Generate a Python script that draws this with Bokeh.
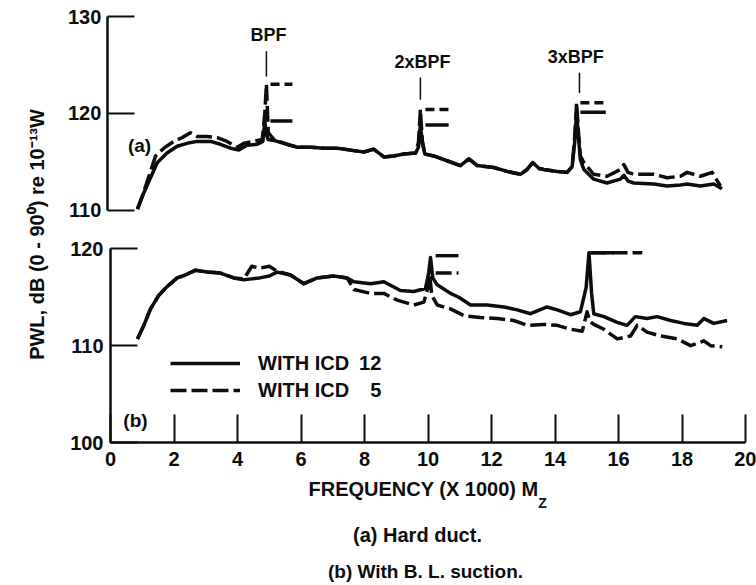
import math
from bokeh.plotting import figure
from bokeh.models import Range1d, LinearAxis, FixedTicker, Legend, LegendItem, Label
from bokeh.core.properties import value
from bokeh.embed import file_html
from bokeh.resources import INLINE

# ---------------- data ----------------
freq_ticks = [0, 2, 4, 6, 8, 10, 12, 14, 16, 18, 20]
bottom_ticks = [100, 110, 120]
top_ticks = [110, 120, 130]

# (a) Hard duct, ICD 12 (solid)
a12_x = [0.85, 1.05, 1.47, 1.78, 2.10, 2.41, 2.73, 3.15, 3.46, 3.78, 4.04, 4.30, 4.62, 4.80, 4.86, 4.90,
         4.96, 5.14, 5.56, 5.88, 6.30, 6.72, 7.14, 7.56, 7.98, 8.29, 8.61, 8.92, 9.24, 9.61, 9.70, 9.76,
         9.82, 9.90, 10.18, 10.60, 11.02, 11.29, 11.55, 12.07, 12.49, 12.91, 13.12, 13.30, 13.50, 13.65,
         14.07, 14.38, 14.54, 14.62, 14.68, 14.74, 14.80, 14.91, 15.22, 15.64, 16.06, 16.17, 16.30, 16.48,
         17.11, 17.53, 17.95, 18.16, 18.58, 19.00, 19.26]
a12_y = [110.1, 111.8, 114.9, 115.9, 116.6, 116.9, 117.1, 117.1, 116.8, 116.4, 116.2, 116.7, 116.8, 117.1, 119.2, 118.0,
         117.3, 117.2, 116.8, 116.5, 116.5, 116.4, 116.4, 116.2, 116.0, 116.3, 115.5, 115.6, 115.8, 115.9, 116.5, 118.8,
         117.0, 115.8, 115.6, 115.1, 114.6, 115.3, 114.6, 114.4, 114.0, 113.7, 114.2, 114.9, 114.3, 114.2,
         114.0, 113.9, 114.5, 117.0, 120.1, 117.5, 115.2, 114.2, 113.2, 112.8, 113.2, 113.6, 113.0, 112.8,
         112.7, 112.5, 112.6, 112.7, 112.5, 112.7, 112.2]

# (a) Hard duct, ICD 5 (dashed)
a5_x = [0.85, 1.05, 1.42, 1.68, 1.99, 2.26, 2.52, 2.73, 3.04, 3.36, 3.67, 3.99, 4.20, 4.51, 4.78, 4.86, 4.91,
        4.97, 5.14, 5.56, 5.88, 6.30, 6.72, 7.14, 7.56, 7.98, 8.29, 8.61, 8.92, 9.24, 9.61, 9.70, 9.76,
        9.82, 9.90, 10.18, 10.60, 11.02, 11.29, 11.55, 12.07, 12.49, 12.91, 13.12, 13.30, 13.50, 13.65,
        14.07, 14.38, 14.54, 14.62, 14.68, 14.74, 14.80, 14.91, 15.22, 15.64, 16.06, 16.17, 16.30, 16.48,
        17.11, 17.53, 17.95, 18.16, 18.58, 18.95, 19.21]
a5_y = [110.1, 111.9, 115.6, 116.4, 117.1, 117.5, 118.0, 117.6, 117.6, 117.5, 117.1, 116.5, 116.9, 117.1, 117.3, 120.0, 123.0,
        118.0, 117.3, 116.8, 116.5, 116.5, 116.4, 116.4, 116.2, 116.0, 116.3, 115.5, 115.6, 115.8, 115.9, 117.0, 120.4,
        117.2, 115.8, 115.6, 115.1, 114.6, 115.3, 114.6, 114.4, 114.0, 113.7, 114.2, 114.9, 114.3, 114.2,
        114.0, 113.9, 114.5, 117.5, 121.1, 118.0, 115.6, 114.9, 113.7, 113.5, 114.2, 114.7, 113.9, 113.7,
        113.7, 113.35, 113.5, 113.9, 113.5, 113.9, 112.5]

# (b) With B.L. suction, ICD 12 (solid)
b12_x = [0.85, 1.05, 1.26, 1.52, 1.78, 2.10, 2.36, 2.68, 3.05, 3.46, 3.88, 4.20, 4.45, 4.70, 5.00, 5.25, 5.67,
         6.09, 6.51, 7.03, 7.45, 7.67, 8.19, 8.61, 9.13, 9.55, 9.92, 10.02, 10.08, 10.15, 10.29, 10.71, 10.97,
         11.34, 11.86, 12.39, 12.81, 13.23, 13.75, 14.07, 14.49, 14.80, 14.98, 15.07, 15.15, 15.22, 15.54,
         15.96, 16.27, 16.53, 16.90, 17.22, 17.64, 18.06, 18.48, 18.69, 19.00, 19.42]
b12_y = [110.7, 112.1, 113.8, 115.2, 116.1, 117.0, 117.3, 117.8, 117.6, 117.5, 117.0, 116.8, 116.9, 117.0, 117.2, 117.6, 117.3,
         116.4, 117.0, 117.2, 117.0, 116.6, 116.4, 116.6, 115.7, 115.6, 115.9, 117.5, 119.1, 117.0, 116.3, 115.4, 115.0,
         114.2, 114.2, 114.0, 113.7, 113.3, 114.0, 113.7, 113.2, 113.5, 116.0, 119.6, 115.5, 113.3, 113.0,
         112.4, 112.1, 113.0, 112.8, 113.0, 112.6, 112.3, 112.1, 112.8, 112.3, 112.6]

# (b) With B.L. suction, ICD 5 (dashed)
b5_x = [0.85, 1.05, 1.26, 1.52, 1.78, 2.10, 2.36, 2.68, 3.05, 3.46, 3.88, 4.20, 4.45, 4.70, 5.00, 5.25, 5.67,
        6.09, 6.51, 7.03, 7.45, 7.67, 8.19, 8.61, 9.03, 9.55, 9.87, 10.00, 10.05, 10.12, 10.29, 10.71, 11.13,
        11.65, 12.18, 12.70, 13.12, 13.65, 14.07, 14.49, 14.86, 15.01, 15.10, 15.22, 15.54, 15.96, 16.38,
        16.59, 16.90, 17.32, 17.85, 18.27, 18.69, 18.90, 19.27]
b5_y = [110.7, 112.1, 113.8, 115.2, 116.1, 117.0, 117.3, 117.8, 117.6, 117.5, 117.0, 116.9, 118.2, 118.0, 118.2, 117.7, 117.3,
        116.4, 117.0, 117.2, 117.0, 115.8, 115.4, 115.4, 114.7, 114.2, 114.5, 116.0, 117.4, 115.2, 114.2, 113.8, 113.1,
        112.9, 112.8, 112.6, 112.1, 112.2, 112.1, 111.7, 111.5, 113.5, 112.5, 112.2, 111.7, 110.7, 111.0,
        112.1, 111.4, 111.0, 110.7, 110.0, 110.5, 110.0, 109.9]

# harmonic indicators (panel a)
harm_labels = ["BPF", "2xBPF", "3xBPF"]
harm_x = [4.91, 9.76, 14.77]
harm_line_lo = [123.8, 121.4, 122.1]
harm_line_hi = [126.4, 123.7, 124.2]
harm_label_x = [4.98, 9.83, 14.65]
harm_label_y = [128.05, 125.3, 125.8]

# level markers at the tones: panel (a)
a_mark_x0 = [5.04, 9.92, 14.80]
a_mark_x1 = [5.73, 10.65, 15.60]
a_mark_icd5 = [123.0, 120.4, 121.1]
a_mark_icd12 = [119.2, 118.8, 120.1]
# panel (b)
b_mark12_x0 = [10.24, 15.12]
b_mark12_x1 = [10.96, 15.85]
b_mark12_y = [119.3, 119.6]
b_mark5_x0 = [10.24, 15.12]
b_mark5_x1 = [10.96, 16.75]
b_mark5_y = [117.5, 119.6]

# ---------------- layout / styling ----------------
FONT = "Liberation Sans"
INK = "#0d0d0d"
W, H = 756, 585
X0_PX, X20_PX = 110, 745          # where 0 and 20 (kHz) sit
Y_BOT_PX, Y_TOP_PX = 442, 16      # where 100 (panel b) and 130 (panel a) sit
OFFSET = 14                       # panel (a) is drawn 14 dB above panel (b)
BOT_LO, BOT_HI = 100, 130 + OFFSET

sx = (X20_PX - X0_PX) / 20.0
sy = (Y_BOT_PX - Y_TOP_PX) / float(BOT_HI - BOT_LO)
x_start = 0 - X0_PX / sx
x_end = 20 + (W - X20_PX) / sx
y_start = BOT_LO - (H - Y_BOT_PX) / sy
y_end = BOT_HI + Y_TOP_PX / sy

p = figure(width=W, height=H, x_range=Range1d(x_start, x_end), y_range=Range1d(y_start, y_end),
           output_backend="svg", toolbar_location=None, x_axis_location=None, y_axis_location=None,
           min_border=0, outline_line_color=None, background_fill_color="white", border_fill_color="white")
p.extra_y_ranges = {"top": Range1d(y_start - OFFSET, y_end - OFFSET)}
p.grid.visible = False


def style_axis(ax, tick_in, standoff):
    ax.axis_line_color = INK
    ax.axis_line_width = 2.5
    ax.major_tick_line_color = INK
    ax.major_tick_line_width = 2
    ax.major_tick_in = tick_in
    ax.major_tick_out = 0
    ax.minor_tick_line_color = None
    ax.major_label_standoff = standoff
    ax.major_label_text_font = FONT
    ax.major_label_text_font_style = "bold"
    ax.major_label_text_font_size = "20px"
    ax.major_label_text_color = INK


ax_bot = LinearAxis(fixed_location=0, ticker=FixedTicker(ticks=bottom_ticks),
                    bounds=(bottom_ticks[0], bottom_ticks[-1]))
style_axis(ax_bot, 27, 7)
p.add_layout(ax_bot, "left")

ax_top = LinearAxis(fixed_location=-0.1, y_range_name="top", ticker=FixedTicker(ticks=top_ticks),
                    bounds=(top_ticks[0], top_ticks[-1]))
style_axis(ax_top, 27, 6)
p.add_layout(ax_top, "left")

ax_x = LinearAxis(fixed_location=100, ticker=FixedTicker(ticks=freq_ticks), bounds=(0, 20))
style_axis(ax_x, 28, 9)
p.add_layout(ax_x, "below")

# curves
r_a12 = p.line(a12_x, a12_y, y_range_name="top", line_color=INK, line_width=3.5, line_join="round")
r_a5 = p.line(a5_x, a5_y, y_range_name="top", line_color=INK, line_width=3.5, line_dash="16 5", line_join="round")
r_b12 = p.line(b12_x, b12_y, line_color=INK, line_width=3.5, line_join="round")
r_b5 = p.line(b5_x, b5_y, line_color=INK, line_width=3.5, line_dash="16 5", line_join="round")

# tone level markers
p.segment(x0=a_mark_x0, y0=a_mark_icd5, x1=a_mark_x1, y1=a_mark_icd5, y_range_name="top",
          line_color=INK, line_width=3.5, line_dash="9 5")
p.segment(x0=a_mark_x0, y0=a_mark_icd12, x1=a_mark_x1, y1=a_mark_icd12, y_range_name="top",
          line_color=INK, line_width=3.5)
p.segment(x0=b_mark5_x0, y0=b_mark5_y, x1=b_mark5_x1, y1=b_mark5_y,
          line_color=INK, line_width=3.5, line_dash="16 5")
p.segment(x0=b_mark12_x0, y0=b_mark12_y, x1=b_mark12_x1, y1=b_mark12_y,
          line_color=INK, line_width=3.5)

# harmonic indicators
p.segment(x0=harm_x, y0=harm_line_lo, x1=harm_x, y1=harm_line_hi, y_range_name="top",
          line_color=INK, line_width=1.5)
p.text(x=harm_label_x, y=harm_label_y, text=harm_labels, y_range_name="top",
       text_font=value(FONT), text_font_size="18px", text_font_style="bold", text_color=INK,
       text_align="center", text_baseline="middle")


def screen_label(px, py, text, size, align="center", angle=0.0):
    p.add_layout(Label(x=px, y=H - py, x_units="screen", y_units="screen", text=text, angle=angle,
                       text_font=FONT, text_font_size=size, text_font_style="bold", text_color=INK,
                       text_align=align, text_baseline="middle"))


# panel tags
screen_label(139, 145, "(a)", "19px")
screen_label(135, 420, "(b)", "19px")

# axis titles
screen_label(36, 234, "PWL, dB (0 - 90\u2070) re 10\u207b\u00b9\u00b3W", "20px", angle=math.pi / 2)
screen_label(308, 488, "FREQUENCY (X 1000) M", "20px", align="left")
screen_label(542, 502, "Z", "14px")

# captions
screen_label(417, 534, "(a) Hard duct.", "20px")
screen_label(425, 571, "(b) With B. L. suction.", "19px")

# legend
legend = Legend(items=[LegendItem(label="WITH ICD\u200212", renderers=[r_b12]),
                       LegendItem(label="WITH ICD\u2002\u20075", renderers=[r_b5])],
                location=(170, H - 402), padding=0, margin=0, spacing=3,
                glyph_width=70, glyph_height=24, label_height=24, label_standoff=18,
                label_text_font=FONT, label_text_font_size="20px", label_text_font_style="bold",
                label_text_color=INK, border_line_color=None, background_fill_alpha=0)
p.add_layout(legend)

open("out.html", "w").write(file_html(p, INLINE))
